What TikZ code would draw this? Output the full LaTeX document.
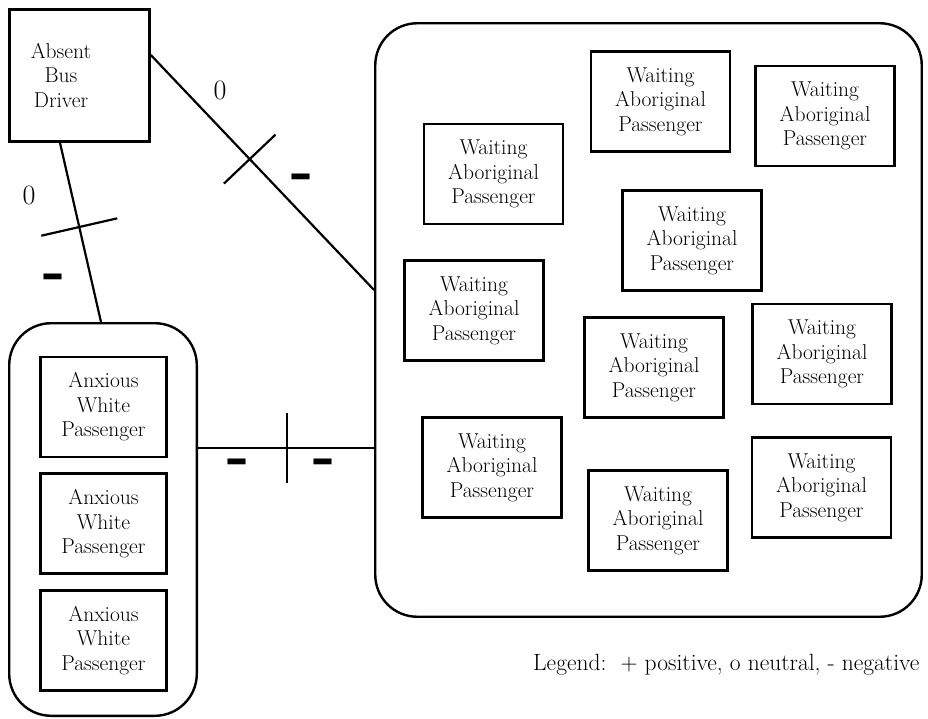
\documentclass[tikz,border=0pt]{standalone}
\usepackage{fontspec}
\usetikzlibrary{positioning,calc}
\newfontfamily\signfont{DejaVu Sans}

\tikzset{
	busgraph/.style = {
		x = 1pt,
		y = -1pt,
		node distance = 14pt,
		font = \fontsize{21.5}{24.5}\selectfont,
		tie/.style = {
			draw,
			line width = 2.2pt,
		}
	},
	person/.style = {
		rectangle,
		draw = black,
		line width = 2.6pt,
		align = center,
		inner sep = 0pt,
		minimum width = 139pt,
		minimum height = 100pt
	},
	anxious/.style = {
		person,
		minimum width = 126pt
	},
	group/.style = {
		rectangle,
		draw = black,
		line width = 2.4pt,
		rounded corners = 42pt
	},
	zero/.style = {
		font = \fontsize{28}{28}\selectfont
	},
	minus/.style = {
		inner sep = 0pt,
		font = \signfont\bfseries\fontsize{46}{46}\selectfont
	}
}

\begin{document}
\begin{tikzpicture}[busgraph]
	\useasboundingbox (0,0) rectangle (928,719);

	\node[person, minimum width = 140pt, minimum height = 132pt] (driver) at (79.5,75.5) {};
	\node[align = center] (driverText) at (61,75) {Absent\\Bus\\Driver};

	\node[group, minimum width = 187.6pt, minimum height = 392.6pt] (whites) at (103,519.5) {};
	\node[anxious] (W1) at (103.5,407) {Anxious\\White\\Passenger};
	\node[anxious, below = of W1] (W2) {Anxious\\White\\Passenger};
	\node[anxious, below = of W2] (W3) {Anxious\\White\\Passenger};

	\node[group, minimum width = 546.5pt, minimum height = 593.5pt] (aboriginals) at (648.5,320) {};
	\node[person] (A1) at (660.5,101.5) {Waiting\\Aboriginal\\Passenger};
	\node[person] (A2) at (825,116) {Waiting\\Aboriginal\\Passenger};
	\node[person] (A3) at (493.5,174) {Waiting\\Aboriginal\\Passenger};
	\node[person] (A4) at (692,240.5) {Waiting\\Aboriginal\\Passenger};
	\node[person] (A5) at (474,310.5) {Waiting\\Aboriginal\\Passenger};
	\node[person] (A6) at (654,367.5) {Waiting\\Aboriginal\\Passenger};
	\node[person] (A7) at (822,354) {Waiting\\Aboriginal\\Passenger};
	\node[person] (A8) at (492,467.5) {Waiting\\Aboriginal\\Passenger};
	\node[person] (A9) at (658,520.5) {Waiting\\Aboriginal\\Passenger};
	\node[person] (A10) at (821.5,487.5) {Waiting\\Aboriginal\\Passenger};

	\coordinate (hStart) at ([yshift = 71.5pt]whites.east);

	\begin{scope}[every path/.style = tie]
		\path ([yshift = 20.5pt]driver.east) to coordinate[pos = 0.443] (t1) ([yshift = 30pt]aboriginals.west) coordinate (e1);
		\path ([xshift = -19.5pt]driver.south) to coordinate[pos = 0.47] (t2) ([xshift = -2pt]whites.north) coordinate (e2);
		\path (hStart) to coordinate[pos = 0.506] (t3) (hStart -| aboriginals.west) coordinate (e3);

		\path ($(t1)!35.5pt!90:(e1)$) -- ($(t1)!35.5pt!-90:(e1)$);
		\path ($(t2)!39pt!90:(e2)$) -- ($(t2)!39pt!-90:(e2)$);
		\path ($(t3)!35pt!90:(e3)$) -- ($(t3)!35pt!-90:(e3)$);
	\end{scope}

	\node[zero] (z1) at (220,90) {0};
	\node[zero] (z2) at (29,195) {0};
	\node[minus] (m1) at (301,182) {\textendash};
	\node[minus] (m2) at (53,282) {\textendash};
	\node[minus] (m3) at (237,467) {\textendash};
	\node[minus] (m4) at (323,467) {\textendash};

	\node[anchor = east, font = \fontsize{23.5}{28}\selectfont] (legend) at (923,665) {Legend:\ \ + positive, o neutral, - negative};
\end{tikzpicture}
\end{document}
